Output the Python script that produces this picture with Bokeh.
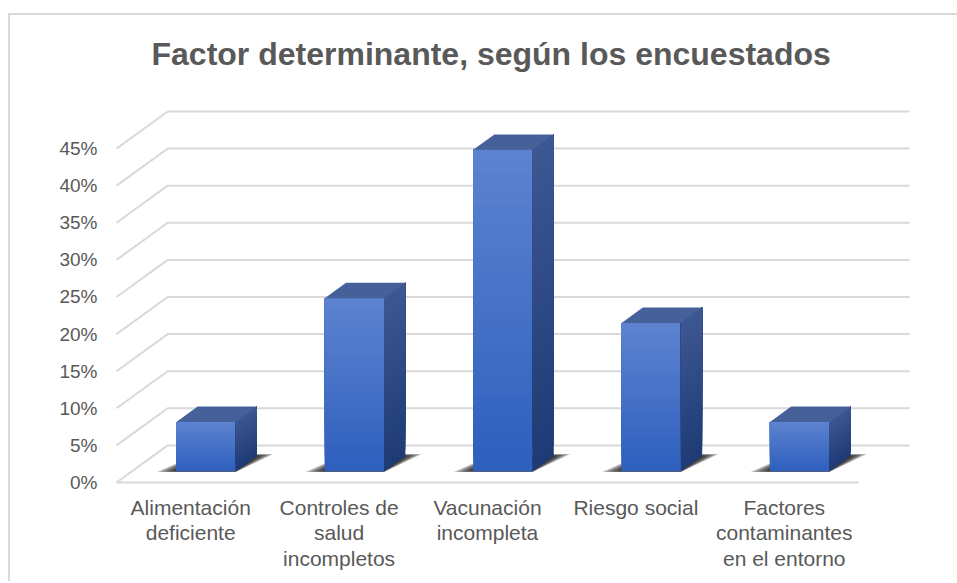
import numpy as np
from bokeh.plotting import figure
from bokeh.models import FixedTicker, Range1d
from bokeh.embed import file_html
from bokeh.resources import INLINE

# ---------------- data ----------------
categories = [
    "Alimentación\ndeficiente",
    "Controles de\nsalud\nincompletos",
    "Vacunación\nincompleta",
    "Riesgo social",
    "Factores\ncontaminantes\nen el entorno",
]
values = [6.67, 23.33, 43.33, 20.0, 6.67]          # percent
y_ticks = [0, 5, 10, 15, 20, 25, 30, 35, 40, 45]
y_tick_labels = ["0%", "5%", "10%", "15%", "20%", "25%", "30%", "35%", "40%", "45%"]
title_text = "Factor determinante, según los encuestados"

# ---------------- 3D style constants ----------------
DEPTH_DX = 0.345     # floor depth in x units
DEPTH_DY = 5.0       # floor depth in y units
BAR_W = 0.40
F0, F1 = 0.30, 0.715  # bar front / back depth fraction
GRID_COLOR = "#d9d9d9"
TEXT_COLOR = "#595959"
FRONT_TOP, FRONT_BOT = (93, 131, 208), (46, 95, 189)
SIDE_TOP, SIDE_BOT = (60, 87, 146), (31, 59, 118)
TOP_FACE = "#46619a"
N_BANDS = 30


def lerp(c0, c1, t):
    return "#%02x%02x%02x" % tuple(int(round(a + (b - a) * t)) for a, b in zip(c0, c1))


p = figure(width=949, height=568, output_backend="svg", toolbar_location=None,
           x_range=Range1d(-0.0674, 5.627), y_range=Range1d(-0.943, 53.23),
           min_border_left=96, min_border_right=8, min_border_top=72, min_border_bottom=94)
p.margin = (13, 0, 0, 8)
p.styles = {"border-top": "2px solid #d9d9d9", "border-left": "2px solid #d9d9d9"}
p.background_fill_color = "white"
p.border_fill_color = "white"
p.outline_line_color = None
p.grid.visible = False

# title
p.title.text = title_text
p.title.text_font = "Liberation Sans"
p.title.text_font_size = "32px"
p.title.text_font_style = "bold"
p.title.text_color = TEXT_COLOR
p.title.align = "left"
p.title.offset = 45
p.title.standoff = 32

# y axis
p.yaxis.ticker = FixedTicker(ticks=y_ticks)
p.yaxis.major_label_overrides = {t: l for t, l in zip(y_ticks, y_tick_labels)}
p.yaxis.axis_line_color = None
p.yaxis.major_tick_line_color = None
p.yaxis.minor_tick_line_color = None
p.yaxis.major_tick_out = 0
p.yaxis.major_tick_in = 0
p.yaxis.major_label_standoff = 9
p.yaxis.major_label_text_font = "Liberation Sans"
p.yaxis.major_label_text_font_size = "19px"
p.yaxis.major_label_text_color = TEXT_COLOR

# x axis (category labels)
centers = [i + 0.5 for i in range(len(categories))]
p.xaxis.ticker = FixedTicker(ticks=centers)
p.xaxis.major_label_overrides = {c: l for c, l in zip(centers, categories)}
p.xaxis.axis_line_color = None
p.xaxis.major_tick_line_color = None
p.xaxis.minor_tick_line_color = None
p.xaxis.major_tick_out = 0
p.xaxis.major_tick_in = 0
p.xaxis.major_label_standoff = 6
p.xaxis.major_label_text_font = "Liberation Sans"
p.xaxis.major_label_text_font_size = "21px"
p.xaxis.major_label_text_color = TEXT_COLOR
p.xaxis.major_label_text_line_height = 1.12

# ---------------- walls / gridlines ----------------
n_cat = len(categories)
gx, gy = [], []
for t in y_ticks:
    gx.append([0, DEPTH_DX, n_cat + DEPTH_DX])
    gy.append([t, t + DEPTH_DY, t + DEPTH_DY])
gx.append([0, n_cat])
gy.append([0, 0])
p.multi_line(gx, gy, line_color=GRID_COLOR, line_width=2)

# ---------------- shadows ----------------
ddx = (F1 - F0) * DEPTH_DX
ddy = (F1 - F0) * DEPTH_DY
for c, v in zip(centers, values):
    x0 = c - BAR_W / 2 + F0 * DEPTH_DX
    x1 = c + BAR_W / 2 + F0 * DEPTH_DX
    y0 = F0 * DEPTH_DY
    for s in [1.0, 0.8, 0.6, 0.4, 0.2]:
        el, er = 0.13 * s, 0.11 * s
        ey = 0.25 * s
        xs = [x0 - el, x1, x1 + ddx + er, x0 + ddx]
        ys = [y0 - ey * 0.3, y0 - ey * 0.3, y0 + ddy + ey, y0 + ddy + ey]
        p.patch(xs, ys, fill_color="#111111", fill_alpha=0.28, line_color=None)

# ---------------- bars ----------------
for c, v in zip(centers, values):
    x0 = c - BAR_W / 2 + F0 * DEPTH_DX
    x1 = c + BAR_W / 2 + F0 * DEPTH_DX
    y0 = F0 * DEPTH_DY
    y1 = y0 + v
    fr_b, fr_c = [], []
    sx, sy, sc = [], [], []
    for j in range(N_BANDS):
        b = y0 + v * j / N_BANDS
        tt = (j + 0.5) / N_BANDS
        fr_b.append(b)
        fr_c.append(lerp(FRONT_BOT, FRONT_TOP, tt))
        sx.append([x1, x1 + ddx, x1 + ddx, x1])
        sy.append([b, b + ddy, y1 + ddy, y1])
        sc.append(lerp(SIDE_BOT, SIDE_TOP, tt))
    # each band reaches the bar top; later (upper) bands paint over -> no seams
    p.quad(left=x0, right=x1, bottom=fr_b, top=y1, fill_color=fr_c, line_color=None)
    p.patches(sx, sy, fill_color=sc, line_color=None)
    p.patch([x0, x1, x1 + ddx, x0 + ddx], [y1, y1, y1 + ddy, y1 + ddy],
            fill_color=TOP_FACE, line_color=None)

open("out.html", "w").write(file_html(p, INLINE))
